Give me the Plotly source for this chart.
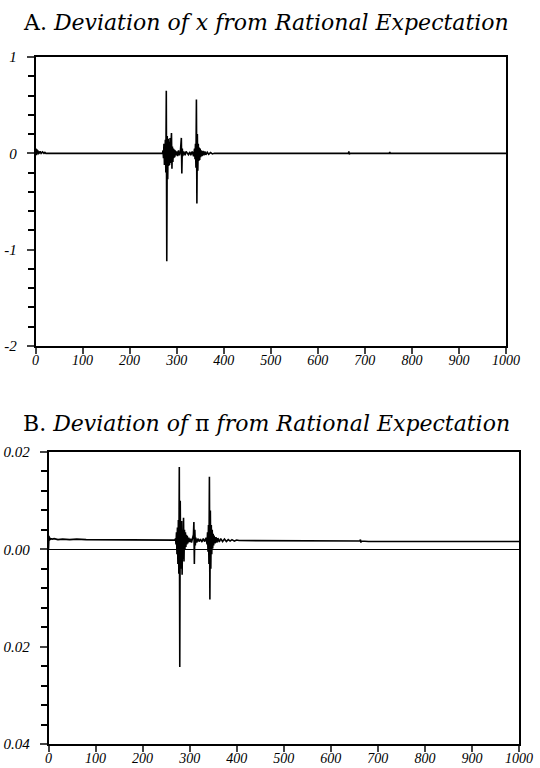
import plotly.graph_objects as go

# ---------------- Data ----------------
# Panel A: deviation of x from rational expectation
t_a = [0, 1, 2, 3, 4, 5, 6, 7, 8, 10, 12, 15, 18, 20, 22,
       270, 271, 272, 273, 274, 275, 276, 277, 278, 279, 280, 281, 282, 283, 284,
       285, 286, 287, 288, 289, 290, 291, 292, 293, 294, 295, 296, 297, 298, 300,
       302, 304, 306, 308, 310, 311, 312, 313, 315, 318, 320, 322, 325, 328, 330,
       333, 336, 338, 339, 340, 341, 342, 343, 344, 345, 346, 347, 348, 349, 350,
       351, 352, 354, 356, 358, 360, 362, 365, 368, 372, 376, 380,
       665, 666, 667, 668, 752, 753, 754, 755, 1000]
x_dev = [0.0, 0.05, -0.02, 0.04, 0.01, 0.03, -0.01, 0.02, 0.0, 0.02, 0.0, 0.015, 0.0, 0.01, 0.0,
         0.0, 0.03, -0.05, 0.10, -0.12, 0.08, 0.14, -0.20, 0.65, -1.12, 0.18, -0.27, 0.15, -0.13, 0.12,
         -0.12, 0.16, -0.10, 0.08, 0.21, -0.16, 0.07, -0.09, 0.05, -0.05, 0.04, -0.04, 0.03, -0.02, 0.02,
         -0.03, 0.03, -0.02, 0.02, 0.16, -0.21, 0.05, -0.03, 0.02, -0.02, 0.02, 0.01, -0.015, 0.015, -0.02,
         0.02, -0.03, 0.05, -0.06, 0.10, -0.15, 0.56, -0.52, 0.20, -0.18, 0.10, -0.08, 0.06, -0.07, 0.05,
         -0.04, 0.03, -0.03, 0.025, -0.02, 0.02, -0.015, 0.012, -0.01, 0.008, -0.006, 0.0,
         0.0, 0.02, -0.01, 0.0, 0.0, 0.015, -0.005, 0.0, 0.0]

# Panel B: deviation of pi from rational expectation
t_b = [0, 1, 2, 3, 4, 5, 8, 12, 20, 30, 45, 60, 80, 100, 120, 150, 200, 250, 268,
       270, 271, 272, 273, 274, 275, 276, 277, 278, 279, 280, 281, 282, 283, 284,
       285, 286, 287, 288, 289, 290, 291, 292, 293, 294, 295, 296, 298, 300, 302,
       304, 306, 308, 309, 310, 311, 312, 313, 315, 318, 320, 323, 326, 329, 332,
       335, 337, 338, 339, 340, 341, 342, 343, 344, 345, 346, 347, 348, 349, 350,
       351, 352, 354, 356, 358, 360, 363, 366, 370, 374, 378, 382, 386, 390, 395,
       400, 405, 500, 600, 662, 663, 664, 665, 680, 700, 710, 720, 740, 760, 770, 1000]
pi_dev = [0.0, 0.0028, 0.0018, 0.0024, 0.0020, 0.0022, 0.0021, 0.0022, 0.0020, 0.0021, 0.0020, 0.0021,
          0.0020, 0.0020, 0.0019, 0.0019, 0.0019, 0.0019, 0.0019,
          0.0022, 0.0010, 0.0035, -0.0010, 0.0045, -0.0030, 0.0060, -0.0050, 0.0169, -0.0242, 0.0100,
          -0.0040, 0.0045, 0.0058, -0.0052, 0.0040, -0.0020, 0.0065, -0.0025, 0.0040, 0.0, 0.0035,
          0.0005, 0.0030, 0.0010, 0.0028, 0.0012, 0.0024, 0.0015, 0.0022, 0.0014, 0.0021, 0.0030,
          0.0056, -0.0030, 0.0040, 0.0008, 0.0024, 0.0014, 0.0022, 0.0016, 0.0021, 0.0015, 0.0022,
          0.0016, 0.0024, 0.0010, 0.0035, -0.0005, 0.0050, -0.0030, 0.0149, -0.0103, 0.0080, -0.0040,
          0.0050, -0.0010, 0.0040, 0.0002, 0.0032, 0.0008, 0.0028, 0.0012, 0.0025, 0.0014, 0.0023,
          0.0015, 0.0022, 0.0016, 0.0021, 0.0016, 0.0020, 0.0017, 0.0020, 0.0017, 0.0019, 0.0018,
          0.0018, 0.0017, 0.0017, 0.0020, 0.0014, 0.0017, 0.0016, 0.0016, 0.0015, 0.0016, 0.0015,
          0.0016, 0.0016, 0.0016]

x_ticks = [0, 100, 200, 300, 400, 500, 600, 700, 800, 900, 1000]
a_yticks = [1, 0, -1, -2]
a_ylabels = ["1", "0", "-1", "-2"]
b_yticks = [0.02, 0.0, -0.02, -0.04]
b_ylabels = ["0.02", "0.00", "0.02", "0.04"]

title_a = "A. <i>Deviation of x from Rational Expectation</i>"
title_b = "B. <i>Deviation of</i> π <i>from Rational Expectation</i>"

# ---------------- Figure ----------------
W, H = 540, 768
fig = go.Figure()
fig.add_trace(go.Scatter(x=t_a, y=x_dev, mode="lines",
                         line=dict(color="black", width=1.6), xaxis="x", yaxis="y",
                         showlegend=False))
fig.add_trace(go.Scatter(x=t_b, y=pi_dev, mode="lines",
                         line=dict(color="black", width=1.6), xaxis="x2", yaxis="y2",
                         showlegend=False))

xfont = dict(family="Liberation Serif", size=14, color="black", style="italic")
yfont = dict(family="Liberation Serif", size=15, color="black", style="italic")
common_x = dict(range=[0, 1000], tickvals=x_ticks, ticks="outside", ticklen=6,
                tickwidth=1.5, showline=True, linecolor="black", linewidth=1.5,
                mirror=True, showgrid=False, zeroline=False, tickfont=xfont,
                ticklabelstandoff=-6, automargin=False)
common_y = dict(ticks="outside", ticklen=7, tickwidth=1.5, showline=True,
                linecolor="black", linewidth=1.5, mirror=True, showgrid=False,
                tickfont=yfont, ticklabelstandoff=7, automargin=False)

fig.update_layout(
    width=W, height=H,
    margin=dict(l=0, r=0, t=0, b=0, pad=0),
    paper_bgcolor="white", plot_bgcolor="white",
    xaxis=dict(domain=[35.5 / W, 506 / W], anchor="y", **common_x),
    yaxis=dict(domain=[1 - 346 / H, 1 - 57 / H], anchor="x", range=[-2, 1],
               tickvals=a_yticks, ticktext=a_ylabels, zeroline=False,
               minor=dict(dtick=0.2, ticks="outside", ticklen=6, tickwidth=1.5,
                          tickcolor="black", showgrid=False),
               **common_y),
    xaxis2=dict(domain=[48.5 / W, 519 / W], anchor="y2", **common_x),
    yaxis2=dict(domain=[1 - 744 / H, 1 - 452 / H], anchor="x2", range=[-0.04, 0.02],
                tickvals=b_yticks, ticktext=b_ylabels, zeroline=True,
                zerolinecolor="black", zerolinewidth=1.2,
                minor=dict(dtick=0.004, ticks="outside", ticklen=6, tickwidth=1.5,
                           tickcolor="black", showgrid=False),
                **common_y),
    annotations=[
        dict(text=title_a, x=266 / W, y=1 - 22 / H, xref="paper", yref="paper",
             showarrow=False, xanchor="center", yanchor="middle",
             font=dict(family="DejaVu Serif", size=22, color="black")),
        dict(text=title_b, x=266 / W, y=1 - 423 / H, xref="paper", yref="paper",
             showarrow=False, xanchor="center", yanchor="middle",
             font=dict(family="DejaVu Serif", size=22, color="black")),
    ],
)

fig.write_html("out.html", config={"displayModeBar": False},
               post_script="document.body.style.margin='0';document.body.style.overflow='hidden';")
